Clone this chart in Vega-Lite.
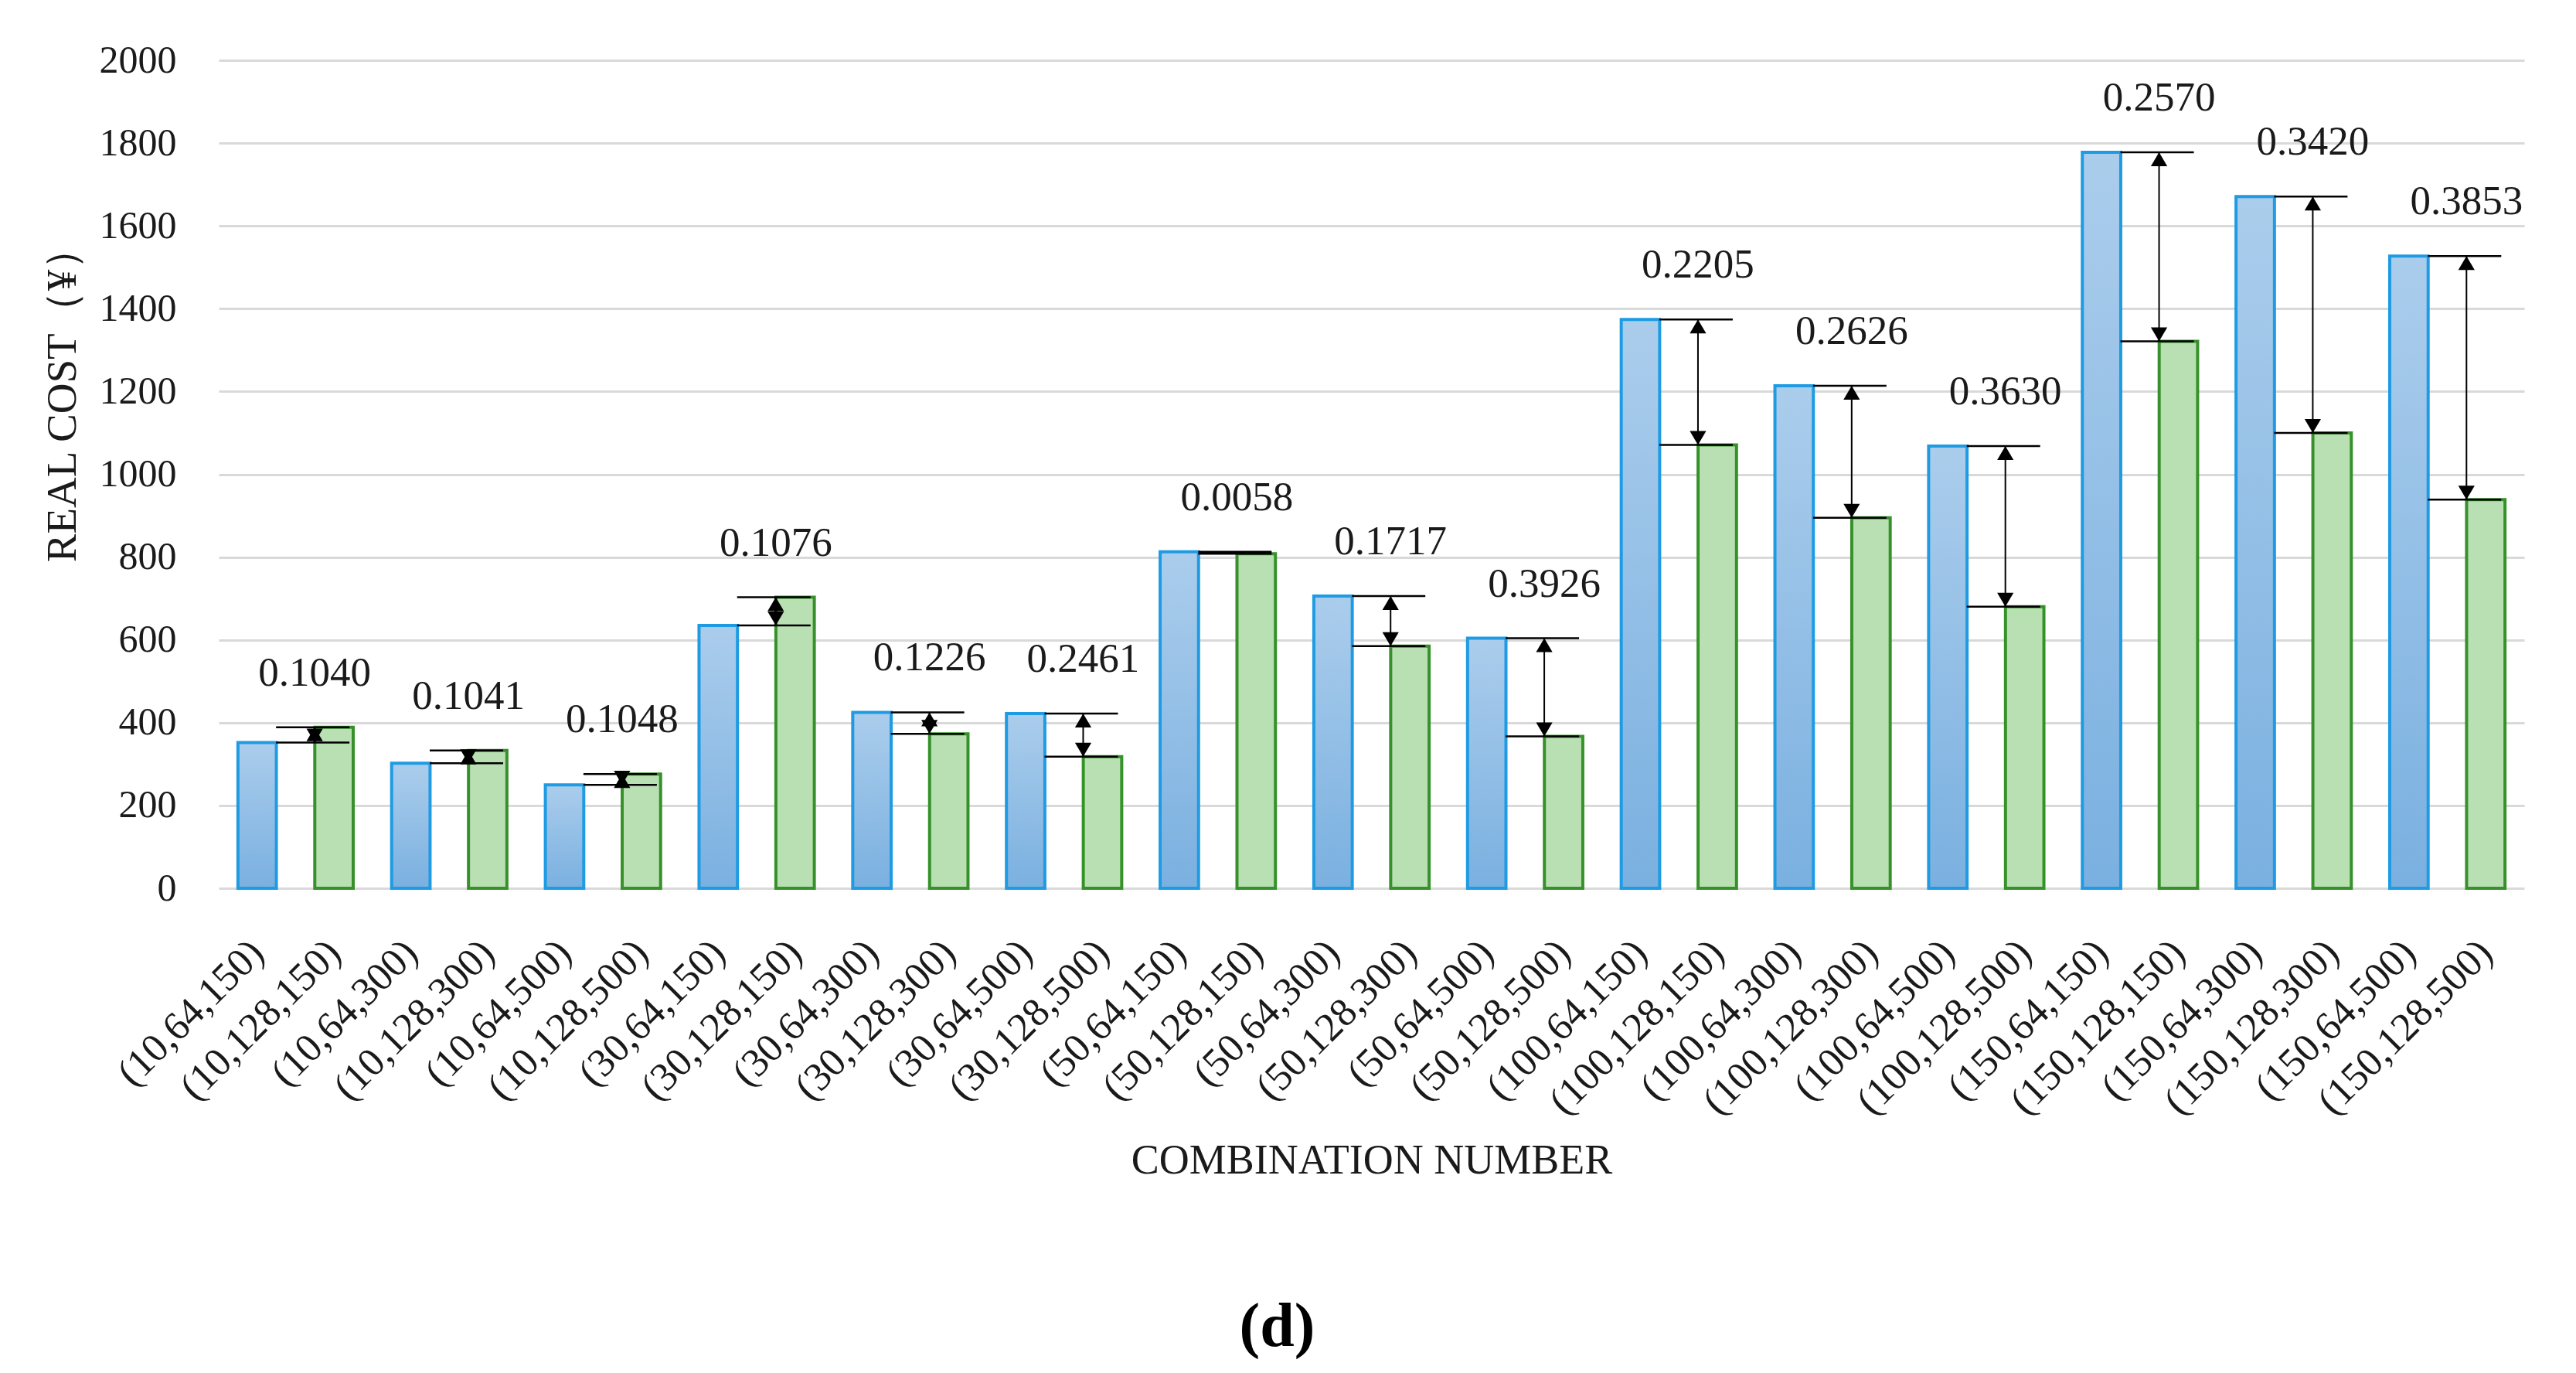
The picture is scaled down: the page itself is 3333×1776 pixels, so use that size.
{
  "$schema": "https://vega.github.io/schema/vega-lite/v6.json",
  "autosize": {"type": "none"},
  "padding": {"left": 283, "top": 78, "right": 67, "bottom": 627},
  "width": 2983,
  "height": 1071,
  "background": "white",
  "config": {"view": {"stroke": null}, "font": "Liberation Serif"},
  "title": {"text": "(d)", "orient": "bottom", "anchor": "middle", "fontSize": 80, "fontWeight": "bold", "font": "Liberation Serif", "color": "#000000", "offset": 150, "dx": -122},
  "datasets": {
    "bars": [
      {"combo": "(10,64,150)", "series": "64", "cost": 352},
      {"combo": "(10,128,150)", "series": "128", "cost": 389},
      {"combo": "(10,64,300)", "series": "64", "cost": 302},
      {"combo": "(10,128,300)", "series": "128", "cost": 333},
      {"combo": "(10,64,500)", "series": "64", "cost": 250},
      {"combo": "(10,128,500)", "series": "128", "cost": 276},
      {"combo": "(30,64,150)", "series": "64", "cost": 635},
      {"combo": "(30,128,150)", "series": "128", "cost": 703},
      {"combo": "(30,64,300)", "series": "64", "cost": 425},
      {"combo": "(30,128,300)", "series": "128", "cost": 373},
      {"combo": "(30,64,500)", "series": "64", "cost": 422},
      {"combo": "(30,128,500)", "series": "128", "cost": 318},
      {"combo": "(50,64,150)", "series": "64", "cost": 813},
      {"combo": "(50,128,150)", "series": "128", "cost": 808},
      {"combo": "(50,64,300)", "series": "64", "cost": 706},
      {"combo": "(50,128,300)", "series": "128", "cost": 585},
      {"combo": "(50,64,500)", "series": "64", "cost": 604},
      {"combo": "(50,128,500)", "series": "128", "cost": 367},
      {"combo": "(100,64,150)", "series": "64", "cost": 1374},
      {"combo": "(100,128,150)", "series": "128", "cost": 1071},
      {"combo": "(100,64,300)", "series": "64", "cost": 1214},
      {"combo": "(100,128,300)", "series": "128", "cost": 895},
      {"combo": "(100,64,500)", "series": "64", "cost": 1068},
      {"combo": "(100,128,500)", "series": "128", "cost": 680},
      {"combo": "(150,64,150)", "series": "64", "cost": 1778},
      {"combo": "(150,128,150)", "series": "128", "cost": 1321},
      {"combo": "(150,64,300)", "series": "64", "cost": 1671},
      {"combo": "(150,128,300)", "series": "128", "cost": 1100},
      {"combo": "(150,64,500)", "series": "64", "cost": 1527},
      {"combo": "(150,128,500)", "series": "128", "cost": 939}
    ],
    "pairs": [
      {"combo": "(10,128,150)", "upper": 389, "lower": 352, "rate": "0.1040"},
      {"combo": "(10,128,300)", "upper": 333, "lower": 302, "rate": "0.1041"},
      {"combo": "(10,128,500)", "upper": 276, "lower": 250, "rate": "0.1048"},
      {"combo": "(30,128,150)", "upper": 703, "lower": 635, "rate": "0.1076"},
      {"combo": "(30,128,300)", "upper": 425, "lower": 373, "rate": "0.1226"},
      {"combo": "(30,128,500)", "upper": 422, "lower": 318, "rate": "0.2461"},
      {"combo": "(50,128,150)", "upper": 813, "lower": 808, "rate": "0.0058"},
      {"combo": "(50,128,300)", "upper": 706, "lower": 585, "rate": "0.1717"},
      {"combo": "(50,128,500)", "upper": 604, "lower": 367, "rate": "0.3926"},
      {"combo": "(100,128,150)", "upper": 1374, "lower": 1071, "rate": "0.2205"},
      {"combo": "(100,128,300)", "upper": 1214, "lower": 895, "rate": "0.2626"},
      {"combo": "(100,128,500)", "upper": 1068, "lower": 680, "rate": "0.3630"},
      {"combo": "(150,128,150)", "upper": 1778, "lower": 1321, "rate": "0.2570"},
      {"combo": "(150,128,300)", "upper": 1671, "lower": 1100, "rate": "0.3420"},
      {"combo": "(150,128,500)", "upper": 1527, "lower": 939, "rate": "0.3853"}
    ]
  },
  "encoding": {
    "x": {
      "field": "combo",
      "type": "nominal",
      "scale": {
        "domain": ["(10,64,150)", "(10,128,150)", "(10,64,300)", "(10,128,300)", "(10,64,500)", "(10,128,500)", "(30,64,150)", "(30,128,150)", "(30,64,300)", "(30,128,300)", "(30,64,500)", "(30,128,500)", "(50,64,150)", "(50,128,150)", "(50,64,300)", "(50,128,300)", "(50,64,500)", "(50,128,500)", "(100,64,150)", "(100,128,150)", "(100,64,300)", "(100,128,300)", "(100,64,500)", "(100,128,500)", "(150,64,150)", "(150,128,150)", "(150,64,300)", "(150,128,300)", "(150,64,500)", "(150,128,500)"],
        "paddingInner": 0.5,
        "paddingOuter": 0.25
      },
      "axis": {
        "title": "COMBINATION NUMBER",
        "titleFont": "Liberation Serif",
        "titleFontSize": 54,
        "titleFontWeight": "normal",
        "titleColor": "#1a1a1a",
        "titleY": 368,
        "titleBaseline": "alphabetic",
        "labelFont": "Liberation Serif",
        "labelFontSize": 52,
        "labelColor": "#1a1a1a",
        "labelAngle": -45,
        "labelAlign": "right",
        "labelBaseline": "middle",
        "labelPadding": 75,
        "labelLimit": 0,
        "domain": false,
        "ticks": false,
        "grid": false,
        "labelOverlap": false
      }
    }
  },
  "layer": [
    {
      "data": {"name": "bars"},
      "transform": [{"filter": "datum.series == '64'"}],
      "mark": {
        "type": "bar",
        "fill": {"gradient": "linear", "x1": 0, "y1": 0, "x2": 0, "y2": 1, "stops": [{"offset": 0, "color": "#abcdec"}, {"offset": 1, "color": "#7ab0e0"}]},
        "stroke": "#1e9be2",
        "strokeWidth": 4
      },
      "encoding": {
        "y": {
          "field": "cost",
          "type": "quantitative",
          "scale": {"domain": [0, 2000], "nice": false},
          "axis": {
            "title": "REAL COST（¥）",
            "titleFont": "Liberation Serif",
            "titleFontSize": 55,
            "titleFontWeight": "normal",
            "titleColor": "#1a1a1a",
            "titleAngle": -90,
            "titleX": -186,
            "titleY": 432,
            "titleAlign": "center",
            "titleBaseline": "alphabetic",
            "values": [0, 200, 400, 600, 800, 1000, 1200, 1400, 1600, 1800, 2000],
            "format": "d",
            "labelFont": "Liberation Serif",
            "labelFontSize": 50,
            "labelColor": "#1a1a1a",
            "labelPadding": 55,
            "domain": false,
            "ticks": false,
            "gridColor": "#d9d9d9",
            "gridWidth": 3
          }
        }
      }
    },
    {
      "data": {"name": "bars"},
      "transform": [{"filter": "datum.series == '128'"}],
      "mark": {"type": "bar", "fill": "#b9e0b2", "stroke": "#37912b", "strokeWidth": 4},
      "encoding": {"y": {"field": "cost", "type": "quantitative"}}
    },
    {
      "data": {"name": "pairs"},
      "mark": {"type": "rule", "color": "#000000", "strokeWidth": 2.5, "xOffset": -75, "x2Offset": 20},
      "encoding": {"x2": {"field": "combo"}, "y": {"field": "upper", "type": "quantitative"}}
    },
    {
      "data": {"name": "pairs"},
      "mark": {"type": "rule", "color": "#000000", "strokeWidth": 2.5, "xOffset": -75, "x2Offset": 20},
      "encoding": {"x2": {"field": "combo"}, "y": {"field": "lower", "type": "quantitative"}}
    },
    {
      "data": {"name": "pairs"},
      "transform": [{"filter": "datum.upper - datum.lower > 10"}],
      "mark": {"type": "rule", "color": "#000000", "strokeWidth": 2, "xOffset": -25},
      "encoding": {"y": {"field": "upper", "type": "quantitative"}, "y2": {"field": "lower"}}
    },
    {
      "data": {"name": "pairs"},
      "transform": [{"filter": "datum.upper - datum.lower > 10"}],
      "mark": {"type": "point", "shape": "M0,0L-1,1.7L1,1.7Z", "size": 450, "filled": true, "color": "#000000", "opacity": 1, "xOffset": -25},
      "encoding": {"y": {"field": "upper", "type": "quantitative"}}
    },
    {
      "data": {"name": "pairs"},
      "transform": [{"filter": "datum.upper - datum.lower > 10"}],
      "mark": {"type": "point", "shape": "M0,0L-1,-1.7L1,-1.7Z", "size": 450, "filled": true, "color": "#000000", "opacity": 1, "xOffset": -25},
      "encoding": {"y": {"field": "lower", "type": "quantitative"}}
    },
    {
      "data": {"name": "pairs"},
      "mark": {"type": "text", "font": "Liberation Serif", "fontSize": 53, "color": "#1a1a1a", "baseline": "alphabetic", "align": "center", "xOffset": -25, "dy": -54},
      "encoding": {"y": {"field": "upper", "type": "quantitative"}, "text": {"field": "rate"}}
    }
  ]
}
